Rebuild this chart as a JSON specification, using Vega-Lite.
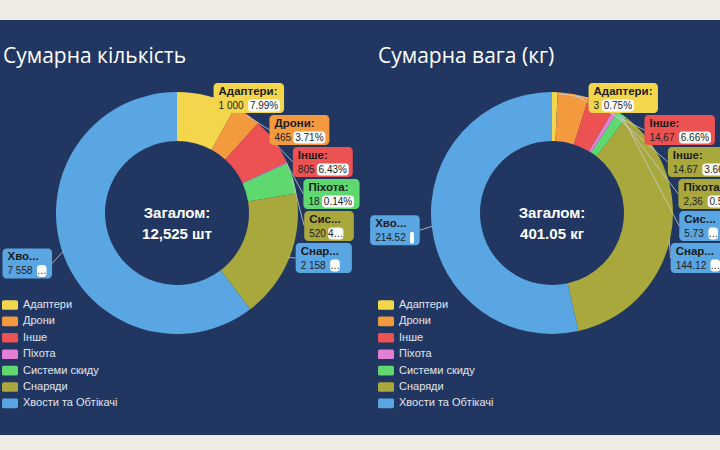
{
  "$schema": "https://vega.github.io/schema/vega-lite/v6.json",
  "background": "#eeebe4",
  "padding": {"top": 20, "bottom": 15, "left": 0, "right": 0},
  "spacing": 0,
  "config": {
    "view": {"stroke": null, "fill": "#213761"},
    "title": {"color": "#ffffff", "font": "Open Sans", "fontSize": 21, "fontWeight": "normal", "anchor": "start", "frame": "group", "offset": -47, "baseline": "alphabetic"},
    "legend": {"padding": 0}
  },
  "resolve": {"scale": {"color": "independent", "x": "independent", "y": "independent", "theta": "independent"}, "legend": {"color": "independent"}},
  "hconcat": [
    {
      "width": 360,
      "height": 415,
      "title": {"text": "Сумарна кількість", "dx": 3},
      "data": {"values": [
        {"cat": "Адаптери", "value": 1000, "lbl": "Адаптери:", "vtxt": "1 000", "ptxt": "7.99%", "boxcat": "Адаптери"},
        {"cat": "Дрони", "value": 465, "lbl": "Дрони:", "vtxt": "465", "ptxt": "3.71%", "boxcat": "Дрони"},
        {"cat": "Інше", "value": 805, "lbl": "Інше:", "vtxt": "805", "ptxt": "6.43%", "boxcat": "Інше"},
        {"cat": "Піхота", "value": 18, "lbl": "Піхота:", "vtxt": "18", "ptxt": "0.14%", "boxcat": "Системи скиду"},
        {"cat": "Системи скиду", "value": 520, "lbl": "Сис...", "vtxt": "520", "ptxt": "4…", "boxcat": "Снаряди"},
        {"cat": "Снаряди", "value": 2158, "lbl": "Снар...", "vtxt": "2 158", "ptxt": "…", "boxcat": "Хвости та Обтікачі"},
        {"cat": "Хвости та Обтікачі", "value": 7558, "lbl": "Хво...", "vtxt": "7 558", "ptxt": "…", "boxcat": "Хвости та Обтікачі"}
      ]},
      "transform": [
        {"window": [{"op": "row_number", "as": "idx"}]},
        {"stack": "value", "groupby": [], "sort": [{"field": "idx", "order": "ascending"}], "offset": "normalize", "as": ["s0", "s1"]},
        {"calculate": "PI * (datum.s0 + datum.s1)", "as": "ang"},
        {"calculate": "datum.ang > PI", "as": "lft"},
        {"calculate": "max(16 + 5.3 * length(datum.vtxt) + 5.6 * length(datum.ptxt), 10 + 6.6 * length(datum.lbl))", "as": "bw"},
        {"calculate": "datum.lft ? -158 * cos(datum.ang) : -115 + 32 * (datum.idx - 1)", "as": "by"},
        {"calculate": "datum.lft ? 158 * sin(datum.ang) - datum.bw / 2 : 128 * sqrt(max(0, 1 - pow(datum.by / 120, 2)))", "as": "bx0"},
        {"calculate": "datum.bx0 + datum.bw", "as": "bx1"},
        {"calculate": "datum.by - 15", "as": "by0"},
        {"calculate": "datum.by + 15", "as": "by1"},
        {"calculate": "120 * sin(datum.ang)", "as": "lx0"},
        {"calculate": "-120 * cos(datum.ang)", "as": "ly0"},
        {"calculate": "datum.lft ? datum.bx1 : datum.bx0", "as": "lx1"},
        {"calculate": "datum.bx0 + 5", "as": "tx"},
        {"calculate": "datum.tx + 5.3 * length(datum.vtxt) + 3", "as": "px0"},
        {"calculate": "datum.px0 + 5.6 * length(datum.ptxt) + 4", "as": "px1"},
        {"calculate": "(datum.px0 + datum.px1) / 2", "as": "pxm"},
        {"calculate": "datum.by - 6", "as": "ty1"},
        {"calculate": "datum.by + 7.5", "as": "ty2"},
        {"calculate": "datum.by + 1.5", "as": "py0"},
        {"calculate": "datum.by + 13.5", "as": "py1"}
      ],
      "layer": [
        {
          "mark": {"type": "arc", "outerRadius": 121, "innerRadius": 72},
          "encoding": {
            "x": {"datum": 0, "type": "quantitative", "scale": {"domain": [-177, 183], "nice": false, "zero": false}, "axis": null},
            "y": {"datum": 0, "type": "quantitative", "scale": {"domain": [-193, 222], "nice": false, "zero": false, "reverse": true}, "axis": null},
            "theta": {"field": "s0", "type": "quantitative", "stack": null, "scale": {"domain": [0, 1], "range": [0, 6.283185]}},
            "theta2": {"field": "s1"},
            "color": {"field": "cat", "type": "nominal",
              "scale": {"domain": ["Адаптери", "Дрони", "Інше", "Піхота", "Системи скиду", "Снаряди", "Хвости та Обтікачі"], "range": ["#f3d64b", "#f39a3f", "#ec5252", "#e47fd6", "#5fd870", "#a9a83c", "#5aa6e2"]},
              "legend": {"title": null, "orient": "none", "legendX": 2, "legendY": 277, "symbolType": "M-0.8,-0.6 L0.8,-0.6 Q1,-0.6 1,-0.4 L1,0.4 Q1,0.6 0.8,0.6 L-0.8,0.6 Q-1,0.6 -1,0.4 L-1,-0.4 Q-1,-0.6 -0.8,-0.6 Z", "symbolSize": 256, "symbolStrokeWidth": 0, "labelFontSize": 11, "labelColor": "#e2e5ec", "labelFont": "Liberation Sans", "rowPadding": 3.4, "labelOffset": 5}}
          }
        },
        {
          "mark": {"type": "rule", "stroke": "#c9ccd3", "strokeWidth": 1, "opacity": 0.8, "clip": true},
          "encoding": {
            "x": {"field": "lx0", "type": "quantitative"},
            "y": {"field": "ly0", "type": "quantitative"},
            "x2": {"field": "lx1"},
            "y2": {"field": "by"}
          }
        },
        {
          "mark": {"type": "rect", "cornerRadius": 4, "clip": true},
          "encoding": {
            "x": {"field": "bx0", "type": "quantitative"},
            "x2": {"field": "bx1"},
            "y": {"field": "by0", "type": "quantitative"},
            "y2": {"field": "by1"},
            "color": {"field": "boxcat", "type": "nominal", "legend": null}
          }
        },
        {
          "mark": {"type": "rect", "cornerRadius": 3, "color": "#ffffff", "clip": true},
          "encoding": {
            "x": {"field": "px0", "type": "quantitative"},
            "x2": {"field": "px1"},
            "y": {"field": "py0", "type": "quantitative"},
            "y2": {"field": "py1"}
          }
        },
        {
          "mark": {"type": "text", "align": "left", "baseline": "middle", "font": "Liberation Sans", "fontSize": 11.5, "fontWeight": "bold", "color": "#1b1b1b", "clip": true},
          "encoding": {
            "x": {"field": "tx", "type": "quantitative"},
            "y": {"field": "ty1", "type": "quantitative"},
            "text": {"field": "lbl"}
          }
        },
        {
          "mark": {"type": "text", "align": "left", "baseline": "middle", "font": "Liberation Sans", "fontSize": 10, "color": "#222222", "clip": true},
          "encoding": {
            "x": {"field": "tx", "type": "quantitative"},
            "y": {"field": "ty2", "type": "quantitative"},
            "text": {"field": "vtxt"}
          }
        },
        {
          "mark": {"type": "text", "align": "center", "baseline": "middle", "font": "Liberation Sans", "fontSize": 10, "color": "#222222", "clip": true},
          "encoding": {
            "x": {"field": "pxm", "type": "quantitative"},
            "y": {"field": "ty2", "type": "quantitative"},
            "text": {"field": "ptxt"}
          }
        },
        {
          "transform": [{"filter": "datum.idx == 1"}],
          "mark": {"type": "text", "text": "Загалом:\n12,525 шт", "lineBreak": "\n", "align": "center", "baseline": "middle", "font": "Liberation Sans", "fontSize": 15, "fontWeight": "bold", "color": "#ffffff", "lineHeight": 21},
          "encoding": {
            "x": {"datum": 0, "type": "quantitative"},
            "y": {"datum": 0, "type": "quantitative"}
          }
        }
      ]
    },
    {
      "width": 360,
      "height": 415,
      "title": {"text": "Сумарна вага (кг)", "dx": 18},
      "data": {"values": [
        {"cat": "Адаптери", "value": 3, "lbl": "Адаптери:", "vtxt": "3", "ptxt": "0.75%", "boxcat": "Адаптери"},
        {"cat": "Дрони", "value": 16.65, "lbl": "Інше:", "vtxt": "14,67", "ptxt": "6.66%", "boxcat": "Інше"},
        {"cat": "Інше", "value": 14.67, "lbl": "Інше:", "vtxt": "14.67", "ptxt": "3.66%", "boxcat": "Снаряди"},
        {"cat": "Піхота", "value": 2.36, "lbl": "Піхота:", "vtxt": "2,36", "ptxt": "0.59%", "boxcat": "Снаряди"},
        {"cat": "Системи скиду", "value": 5.73, "lbl": "Сис...", "vtxt": "5.73", "ptxt": "…", "boxcat": "Хвости та Обтікачі"},
        {"cat": "Снаряди", "value": 144.12, "lbl": "Снар...", "vtxt": "144.12", "ptxt": "…", "boxcat": "Хвости та Обтікачі"},
        {"cat": "Хвости та Обтікачі", "value": 214.52, "lbl": "Хво...", "vtxt": "214.52", "ptxt": "", "boxcat": "Хвости та Обтікачі"}
      ]},
      "transform": [
        {"window": [{"op": "row_number", "as": "idx"}]},
        {"stack": "value", "groupby": [], "sort": [{"field": "idx", "order": "ascending"}], "offset": "normalize", "as": ["s0", "s1"]},
        {"calculate": "PI * (datum.s0 + datum.s1)", "as": "ang"},
        {"calculate": "datum.ang > PI", "as": "lft"},
        {"calculate": "max(16 + 5.3 * length(datum.vtxt) + 5.6 * length(datum.ptxt), 10 + 6.6 * length(datum.lbl))", "as": "bw"},
        {"calculate": "datum.lft ? -158 * cos(datum.ang) : -115 + 32 * (datum.idx - 1)", "as": "by"},
        {"calculate": "datum.lft ? 158 * sin(datum.ang) - datum.bw / 2 : 128 * sqrt(max(0, 1 - pow(datum.by / 120, 2)))", "as": "bx0"},
        {"calculate": "datum.bx0 + datum.bw", "as": "bx1"},
        {"calculate": "datum.by - 15", "as": "by0"},
        {"calculate": "datum.by + 15", "as": "by1"},
        {"calculate": "120 * sin(datum.ang)", "as": "lx0"},
        {"calculate": "-120 * cos(datum.ang)", "as": "ly0"},
        {"calculate": "datum.lft ? datum.bx1 : datum.bx0", "as": "lx1"},
        {"calculate": "datum.bx0 + 5", "as": "tx"},
        {"calculate": "datum.tx + 5.3 * length(datum.vtxt) + 3", "as": "px0"},
        {"calculate": "datum.px0 + 5.6 * length(datum.ptxt) + 4", "as": "px1"},
        {"calculate": "(datum.px0 + datum.px1) / 2", "as": "pxm"},
        {"calculate": "datum.by - 6", "as": "ty1"},
        {"calculate": "datum.by + 7.5", "as": "ty2"},
        {"calculate": "datum.by + 1.5", "as": "py0"},
        {"calculate": "datum.by + 13.5", "as": "py1"}
      ],
      "layer": [
        {
          "mark": {"type": "arc", "outerRadius": 121, "innerRadius": 72},
          "encoding": {
            "x": {"datum": 0, "type": "quantitative", "scale": {"domain": [-192, 168], "nice": false, "zero": false}, "axis": null},
            "y": {"datum": 0, "type": "quantitative", "scale": {"domain": [-193, 222], "nice": false, "zero": false, "reverse": true}, "axis": null},
            "theta": {"field": "s0", "type": "quantitative", "stack": null, "scale": {"domain": [0, 1], "range": [0, 6.283185]}},
            "theta2": {"field": "s1"},
            "color": {"field": "cat", "type": "nominal",
              "scale": {"domain": ["Адаптери", "Дрони", "Інше", "Піхота", "Системи скиду", "Снаряди", "Хвости та Обтікачі"], "range": ["#f3d64b", "#f39a3f", "#ec5252", "#e47fd6", "#5fd870", "#a9a83c", "#5aa6e2"]},
              "legend": {"title": null, "orient": "none", "legendX": 18, "legendY": 277, "symbolType": "M-0.8,-0.6 L0.8,-0.6 Q1,-0.6 1,-0.4 L1,0.4 Q1,0.6 0.8,0.6 L-0.8,0.6 Q-1,0.6 -1,0.4 L-1,-0.4 Q-1,-0.6 -0.8,-0.6 Z", "symbolSize": 256, "symbolStrokeWidth": 0, "labelFontSize": 11, "labelColor": "#e2e5ec", "labelFont": "Liberation Sans", "rowPadding": 3.4, "labelOffset": 5}}
          }
        },
        {
          "mark": {"type": "rule", "stroke": "#c9ccd3", "strokeWidth": 1, "opacity": 0.8, "clip": true},
          "encoding": {
            "x": {"field": "lx0", "type": "quantitative"},
            "y": {"field": "ly0", "type": "quantitative"},
            "x2": {"field": "lx1"},
            "y2": {"field": "by"}
          }
        },
        {
          "mark": {"type": "rect", "cornerRadius": 4, "clip": true},
          "encoding": {
            "x": {"field": "bx0", "type": "quantitative"},
            "x2": {"field": "bx1"},
            "y": {"field": "by0", "type": "quantitative"},
            "y2": {"field": "by1"},
            "color": {"field": "boxcat", "type": "nominal", "legend": null}
          }
        },
        {
          "mark": {"type": "rect", "cornerRadius": 3, "color": "#ffffff", "clip": true},
          "encoding": {
            "x": {"field": "px0", "type": "quantitative"},
            "x2": {"field": "px1"},
            "y": {"field": "py0", "type": "quantitative"},
            "y2": {"field": "py1"}
          }
        },
        {
          "mark": {"type": "text", "align": "left", "baseline": "middle", "font": "Liberation Sans", "fontSize": 11.5, "fontWeight": "bold", "color": "#1b1b1b", "clip": true},
          "encoding": {
            "x": {"field": "tx", "type": "quantitative"},
            "y": {"field": "ty1", "type": "quantitative"},
            "text": {"field": "lbl"}
          }
        },
        {
          "mark": {"type": "text", "align": "left", "baseline": "middle", "font": "Liberation Sans", "fontSize": 10, "color": "#222222", "clip": true},
          "encoding": {
            "x": {"field": "tx", "type": "quantitative"},
            "y": {"field": "ty2", "type": "quantitative"},
            "text": {"field": "vtxt"}
          }
        },
        {
          "mark": {"type": "text", "align": "center", "baseline": "middle", "font": "Liberation Sans", "fontSize": 10, "color": "#222222", "clip": true},
          "encoding": {
            "x": {"field": "pxm", "type": "quantitative"},
            "y": {"field": "ty2", "type": "quantitative"},
            "text": {"field": "ptxt"}
          }
        },
        {
          "transform": [{"filter": "datum.idx == 1"}],
          "mark": {"type": "text", "text": "Загалом:\n401.05 кг", "lineBreak": "\n", "align": "center", "baseline": "middle", "font": "Liberation Sans", "fontSize": 15, "fontWeight": "bold", "color": "#ffffff", "lineHeight": 21},
          "encoding": {
            "x": {"datum": 0, "type": "quantitative"},
            "y": {"datum": 0, "type": "quantitative"}
          }
        }
      ]
    }
  ]
}
